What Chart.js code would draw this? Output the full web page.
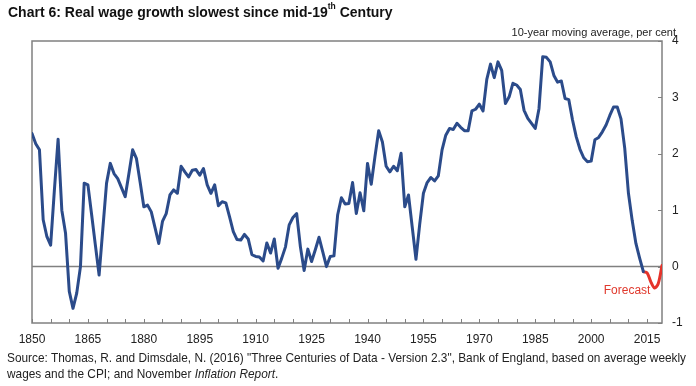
<!DOCTYPE html>
<html><head><meta charset="utf-8">
<script src="https://cdn.jsdelivr.net/npm/chart.js@4.4.1/dist/chart.umd.min.js"></script>
<style>
html,body{margin:0;padding:0;background:#fff;}
body{width:696px;height:386px;position:relative;overflow:hidden;font-family:"Liberation Sans",Arial,sans-serif;}
#c{position:absolute;left:0;top:0;}
#title{position:absolute;left:8px;top:4px;font-weight:bold;font-size:14px;color:#111;white-space:nowrap;}
#title sup{font-size:8.5px;vertical-align:top;position:relative;top:-3px;}
#src{position:absolute;left:7px;top:350px;font-size:11.85px;line-height:16px;color:#222;white-space:nowrap;}
</style></head><body>
<canvas id="c" width="696" height="386"></canvas>
<div id="title">Chart 6: Real wage growth slowest since mid-19<sup>th</sup> Century</div>
<div id="src">Source: Thomas, R. and Dimsdale, N. (2016) "Three Centuries of Data - Version 2.3", Bank of England, based on average weekly<br>wages and the CPI; and November <i>Inflation Report</i>.</div>
<script>
// ---- data ----
const firstYear = 1850;
const realWageGrowth = [
  2.36, 2.18, 2.07, 0.83, 0.53, 0.38, 1.35, 2.26, 1.00, 0.59,
 -0.44,-0.74,-0.47, 0.00, 1.48, 1.45, 0.92, 0.38,-0.15, 0.67,
  1.48, 1.83, 1.65, 1.56, 1.40, 1.24, 1.65, 2.07, 1.92, 1.50,
  1.06, 1.09, 0.97, 0.69, 0.41, 0.80, 0.94, 1.27, 1.36, 1.30,
  1.78, 1.68, 1.59, 1.71, 1.72, 1.62, 1.74, 1.45, 1.30, 1.45,
  1.08, 1.15, 1.13, 0.88, 0.62, 0.48, 0.47, 0.57, 0.49, 0.21,
  0.18, 0.17, 0.10, 0.42, 0.24, 0.49,-0.03, 0.15, 0.35, 0.74,
  0.87, 0.94, 0.35,-0.07, 0.31, 0.09, 0.30, 0.52, 0.26, 0.00,
  0.18, 0.19, 0.92, 1.22, 1.11, 1.12, 1.49, 0.94, 1.31, 0.99,
  1.83, 1.46, 1.95, 2.41, 2.21, 1.78, 1.68, 1.78, 1.70, 2.01,
  1.06, 1.27, 0.70, 0.13, 0.75, 1.30, 1.49, 1.58, 1.52, 1.61,
  2.07, 2.33, 2.45, 2.43, 2.54, 2.47, 2.41, 2.41, 2.76, 2.79,
  2.88, 2.76, 3.32, 3.59, 3.35, 3.63, 3.48, 2.89, 3.01, 3.25,
  3.22, 3.14, 2.77, 2.63, 2.54, 2.45, 2.80, 3.72, 3.71, 3.63,
  3.39, 3.27, 3.29, 2.98, 2.96, 2.60, 2.30, 2.08, 1.93, 1.86,
  1.87, 2.25, 2.29, 2.39, 2.51, 2.68, 2.83, 2.83, 2.62, 2.10,
  1.30, 0.82, 0.41, 0.15,-0.09
];
const forecastYears  = [2014, 2015, 2016, 2017, 2018, 2019];
const forecastValues = [-0.09,-0.11,-0.27,-0.38,-0.30, 0.02];
const xTickLabels = [1850,1865,1880,1895,1910,1925,1940,1955,1970,1985,2000,2015];
const yTickValues = [-1,0,1,2,3,4];
const yAxisTitle = '10-year moving average, per cent';
const forecastLabel = 'Forecast';

const minorTickYears = [];
for (let yr = 1850; yr <= 2015; yr += 5) minorTickYears.push(yr);

const FONT = '"Liberation Sans", Arial, sans-serif';

const frame = {
  id: 'frame',
  beforeDatasetsDraw(chart) {
    const {ctx, chartArea: a, scales: {x, y}} = chart;
    ctx.save();
    ctx.strokeStyle = '#808080';
    ctx.lineWidth = 1.5;
    const y0 = y.getPixelForValue(0);
    ctx.beginPath(); ctx.moveTo(a.left, y0); ctx.lineTo(a.right, y0); ctx.stroke();
    ctx.strokeRect(a.left, a.top, a.right - a.left, a.bottom - a.top);
    ctx.lineWidth = 1;
    ctx.beginPath();
    for (const yr of minorTickYears) {
      const px = Math.round(x.getPixelForValue(yr)) + 0.5;
      ctx.moveTo(px, a.bottom); ctx.lineTo(px, a.bottom - 4);
    }
    for (const v of yTickValues) {
      const py = Math.round(y.getPixelForValue(v)) + 0.5;
      ctx.moveTo(a.right, py); ctx.lineTo(a.right - 4, py);
    }
    ctx.stroke();
    ctx.restore();
  },
  afterDraw(chart) {
    const {ctx, scales: {x, y}} = chart;
    ctx.save();
    ctx.font = '11px ' + FONT;
    ctx.fillStyle = '#222';
    ctx.textAlign = 'right';
    ctx.textBaseline = 'middle';
    ctx.fillText(yAxisTitle, 676, 33);
    ctx.font = '12px ' + FONT;
    ctx.fillStyle = '#e0392d';
    ctx.fillText(forecastLabel, x.getPixelForValue(2015.9), y.getPixelForValue(-0.42));
    ctx.restore();
  }
};

new Chart(document.getElementById('c'), {
  type: 'line',
  data: {
    datasets: [
      {
        data: realWageGrowth.map((v, i) => ({x: firstYear + i, y: v})),
        borderColor: '#2b4b8a', borderWidth: 3, pointRadius: 0,
        borderJoinStyle: 'round', borderCapStyle: 'round', tension: 0
      },
      {
        data: forecastYears.map((yr, i) => ({x: yr, y: forecastValues[i]})),
        borderColor: '#e5332a', borderWidth: 3, pointRadius: 0,
        borderJoinStyle: 'round', borderCapStyle: 'round', tension: 0.3
      }
    ]
  },
  options: {
    responsive: false, animation: false, devicePixelRatio: 1,
    layout: {padding: {left: 32, top: 41, right: 0, bottom: 41}},
    plugins: {legend: {display: false}, tooltip: {enabled: false}, title: {display: false}},
    scales: {
      x: {
        type: 'linear', min: 1850, max: 2019,
        grid: {display: false, drawTicks: false}, border: {display: false},
        afterBuildTicks: s => { s.ticks = xTickLabels.map(v => ({value: v})); },
        afterFit: s => { s.height = 22; },
        ticks: {padding: 9, color: '#222', font: {family: FONT, size: 12}, maxRotation: 0,
                autoSkip: false, callback: v => String(v)}
      },
      y: {
        position: 'right', min: -1, max: 4,
        grid: {display: false, drawTicks: false}, border: {display: false},
        afterBuildTicks: s => { s.ticks = yTickValues.map(v => ({value: v})); },
        afterFit: s => { s.width = 34; },
        ticks: {padding: 10, color: '#222', font: {family: FONT, size: 12}, callback: v => String(v)}
      }
    }
  },
  plugins: [frame]
});
</script>
</body></html>
